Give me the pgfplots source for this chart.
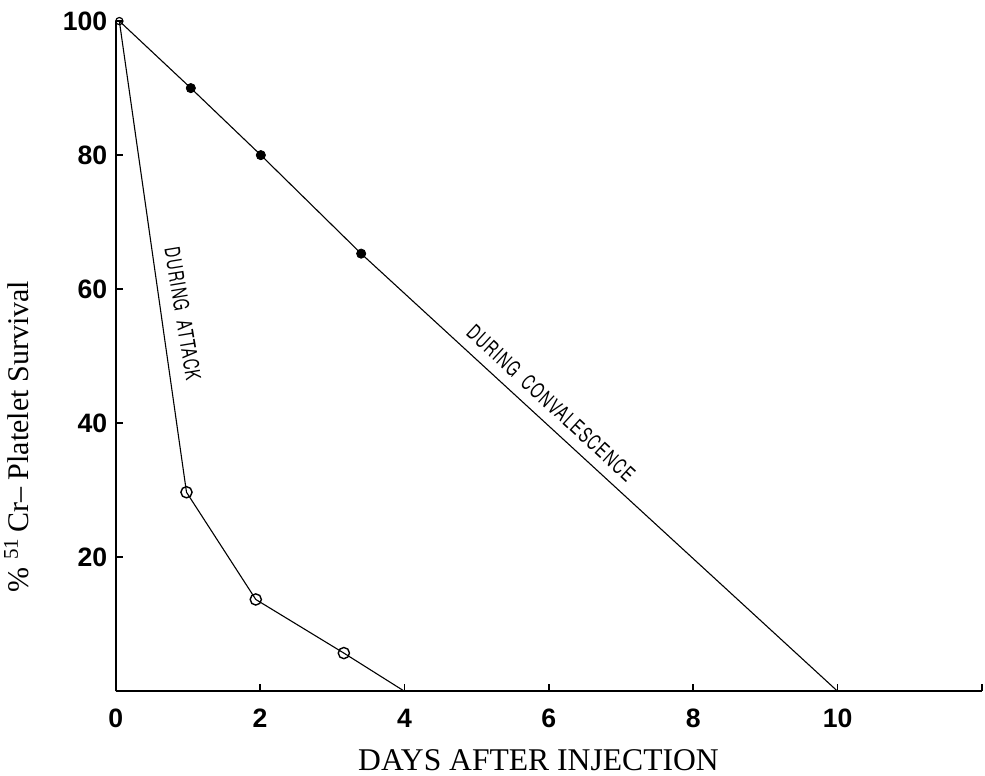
\documentclass[border=0pt]{standalone}
\usepackage{fontspec}
\setmainfont{Liberation Serif}
\newfontfamily\tickfont{Liberation Sans}
\newfontfamily\ann[FakeStretch=0.7,LetterSpace=6]{TeX Gyre Heros}
\usepackage{pgfplots}
\pgfplotsset{compat=1.18}
\begin{document}
\begin{tikzpicture}
\begin{axis}[
  scale only axis, width=433pt, height=335pt,
  xmin=0, xmax=12, ymin=0, ymax=100,
  axis x line=bottom, axis y line=left,
  axis line style={line width=1pt,-},
  xtick={0,2,4,6,8,10,12}, xticklabels={0,2,4,6,8,10,},
  ytick={20,40,60,80,100},
  tick align=inside, major tick length=3.5pt,
  tick style={line width=0.8pt,black},
  ticklabel style={font=\tickfont\bfseries\fontsize{13.3}{13.3}\selectfont},
  xticklabel style={inner xsep=0pt},
  /pgf/number format/assume math mode=true,
  xticklabel shift=5.5pt,
  yticklabel shift=0.7pt,
  xlabel={DAYS AFTER INJECTION},
  xlabel style={at={(axis description cs:0.488,0)}, anchor=north, yshift=-29pt, inner sep=0pt, font=\fontsize{15.8}{15.8}\selectfont},
  ylabel={\% \textsuperscript{51}\,Cr– Platelet Survival},
  ylabel style={at={(axis description cs:-0.1,0.38)}, anchor=south, inner sep=0pt, font=\fontsize{15}{15}\selectfont},
  clip=false,
]
% during attack
\addplot[black, line width=0.55pt, mark=none] coordinates {(0.05,100) (0.98,29.7) (1.94,13.7) (3.16,5.7) (4,0)};
\addplot[only marks, mark=o, mark size=2.8pt, mark options={fill=white, line width=0.7pt}] coordinates {(0.98,29.7) (1.94,13.7) (3.16,5.7)};
% during convalescence
\addplot[black, line width=0.55pt, mark=none] coordinates {(0.05,100) (1.04,90) (2.01,80) (3.4,65.3) (10,0)};
\addplot[only marks, mark=*, mark size=2.3pt, black] coordinates {(1.04,90) (2.01,80) (3.4,65.3)};
\addplot[only marks, mark=o, mark size=1.8pt, mark options={fill=white, line width=0.6pt}] coordinates {(0.05,100)};
\node[rotate=-80.6, font=\ann\fontsize{10.5}{10.5}\selectfont] at (axis cs:0.93,56.3) {DURING\hspace{0.45em}ATTACK};
\node[rotate=-42.6, font=\ann\fontsize{10.5}{10.5}\selectfont] at (axis cs:6.03,43.0) {DURING\hspace{0.45em}CONVALESCENCE};
\end{axis}
\path ([xshift=-2pt,yshift=-2.5pt]current bounding box.south west) ([xshift=1pt,yshift=2.5pt]current bounding box.north east);
\end{tikzpicture}
\end{document}
